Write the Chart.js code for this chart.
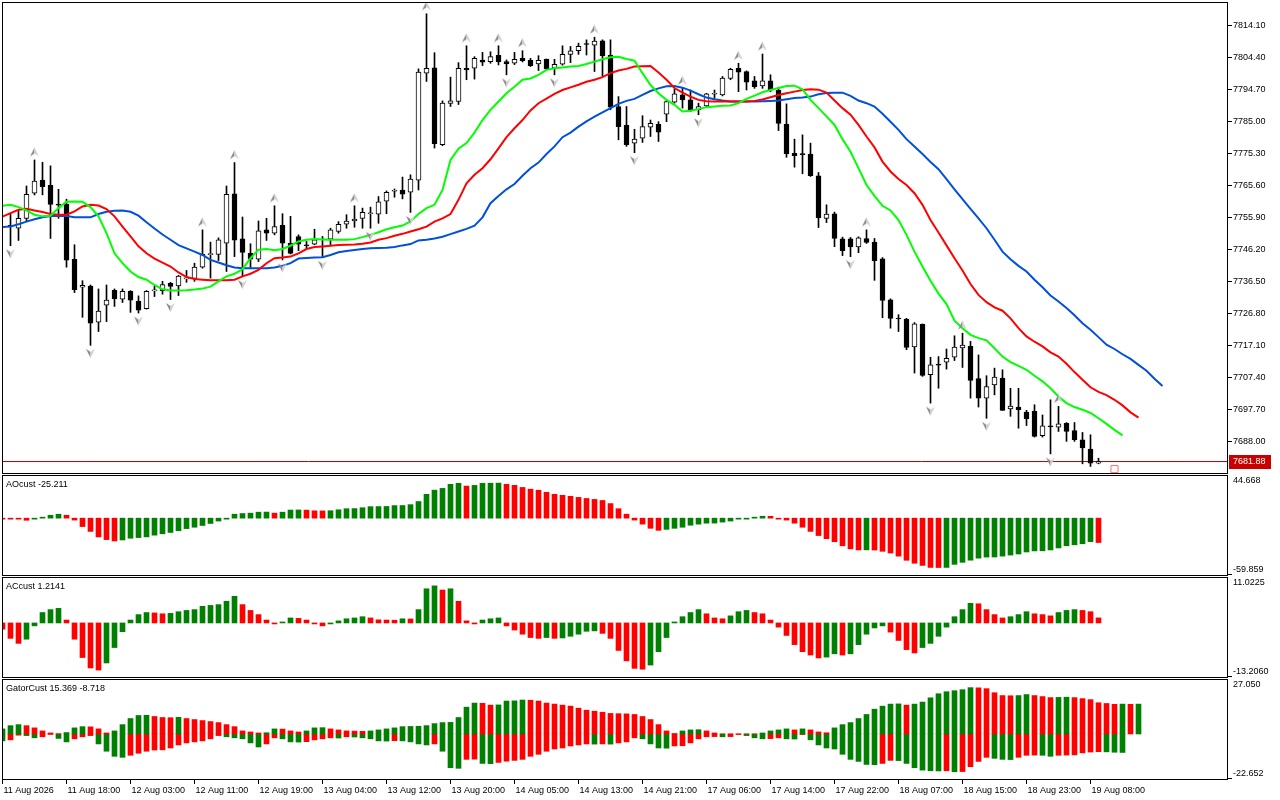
<!DOCTYPE html>
<html>
<head>
<meta charset="utf-8">
<script src="https://cdn.jsdelivr.net/npm/chart.js@4.4.1/dist/chart.umd.min.js"></script>
<style>
  html, body { margin: 0; padding: 0; background: #fff; }
  #wrap { position: relative; width: 1280px; height: 800px; overflow: hidden; background: #fff; }
  canvas { position: absolute; left: 0; }
</style>
</head>
<body>
<div id="wrap">
  <canvas id="main" width="1280" height="475" style="top:0px"></canvas>
  <canvas id="ao" width="1280" height="101" style="top:475px"></canvas>
  <canvas id="ac" width="1280" height="101" style="top:577px"></canvas>
  <canvas id="gator" width="1280" height="122" style="top:679px"></canvas>
</div>
<script>
// ---- time axis ----
const tickBars = [-1, 7, 15, 23, 31, 39, 47, 55, 63, 71, 79, 87, 95, 103, 111, 119, 127, 135];
const tickText = ['11 Aug 2026', '11 Aug 18:00', '12 Aug 03:00', '12 Aug 11:00', '12 Aug 19:00',
  '13 Aug 04:00', '13 Aug 12:00', '13 Aug 20:00', '14 Aug 05:00', '14 Aug 13:00', '14 Aug 21:00',
  '17 Aug 06:00', '17 Aug 14:00', '17 Aug 22:00', '18 Aug 07:00', '18 Aug 15:00', '18 Aug 23:00',
  '19 Aug 08:00'];
const priceTicks = [7688.00, 7697.70, 7707.40, 7717.10, 7726.80, 7736.50, 7746.20, 7755.90,
  7765.60, 7775.30, 7785.00, 7794.70, 7804.40, 7814.10];

// ---- H1 candles, bar 0 .. 136 ----
const open = [
  7753.5, 7752.6, 7755.6, 7763.2, 7767.2, 7765.6, 7759.9, 7759.9, 7743.2, 7734.7,
  7735.1, 7724.1, 7729.3, 7733.8, 7731.1, 7733.5, 7730.5, 7728.2, 7733.6, 7733.7,
  7735.9, 7735.1, 7737.2, 7737.4, 7740.8, 7744.6, 7744.7, 7748.1, 7763.0, 7749.4,
  7745.0, 7743.2, 7752.1, 7751.1, 7753.5, 7748.1, 7750.1, 7747.5, 7747.8, 7746.9,
  7749.3, 7751.6, 7753.8, 7754.8, 7755.6, 7757.0, 7756.9, 7760.8, 7763.8, 7764.2,
  7763.5, 7767.2, 7799.6, 7801.2, 7777.9, 7790.4, 7791.0, 7801.1, 7801.1, 7803.6,
  7803.1, 7805.0, 7803.1, 7802.6, 7804.1, 7803.5, 7802.4, 7803.9, 7801.1, 7802.3,
  7805.3, 7806.4, 7808.5, 7808.1, 7809.4, 7805.1, 7789.5, 7783.9, 7778.4, 7779.9,
  7783.2, 7784.1, 7787.2, 7790.8, 7793.0, 7791.5, 7788.5, 7789.7, 7793.2, 7793.0,
  7798.0, 7801.1, 7800.1, 7797.3, 7795.7, 7797.3, 7794.5, 7784.2, 7775.3, 7775.1,
  7775.1, 7768.5, 7755.6, 7757.0, 7749.4, 7749.4, 7746.9, 7749.5, 7748.4, 7743.3,
  7730.9, 7725.3, 7725.1, 7716.6, 7723.5, 7708.2, 7711.3, 7712.0, 7713.5, 7716.3,
  7716.8, 7707.0, 7701.1, 7705.1, 7707.2, 7697.8, 7698.4, 7696.9, 7697.1, 7689.7,
  7692.6, 7692.3, 7693.5, 7691.3, 7688.5, 7685.7, 7681.4
];
const high = [
  7757.1, 7758.0, 7765.4, 7773.3, 7772.6, 7771.5, 7764.4, 7761.4, 7747.6, 7736.7,
  7735.4, 7734.2, 7735.4, 7734.2, 7734.2, 7733.7, 7732.1, 7733.7, 7735.1, 7736.5,
  7736.2, 7738.3, 7739.8, 7742.0, 7752.1, 7748.4, 7749.7, 7765.4, 7772.5, 7756.0,
  7747.9, 7754.8, 7755.6, 7759.4, 7757.0, 7756.2, 7750.6, 7748.6, 7752.3, 7750.1,
  7752.6, 7754.6, 7756.7, 7759.4, 7758.7, 7759.0, 7762.2, 7763.9, 7764.5, 7768.1,
  7768.8, 7800.9, 7817.6, 7805.8, 7791.2, 7798.4, 7802.8, 7807.9, 7804.6, 7805.9,
  7806.1, 7807.9, 7803.6, 7805.9, 7806.4, 7804.1, 7804.9, 7803.9, 7803.8, 7807.9,
  7807.7, 7808.7, 7809.7, 7810.5, 7809.7, 7809.7, 7792.5, 7789.5, 7782.6, 7786.7,
  7785.4, 7784.9, 7791.5, 7794.8, 7795.0, 7794.5, 7790.5, 7793.5, 7794.5, 7798.6,
  7801.1, 7802.6, 7800.3, 7798.6, 7805.4, 7799.1, 7795.3, 7790.3, 7779.6, 7780.9,
  7778.4, 7769.5, 7759.7, 7757.5, 7749.9, 7749.8, 7750.0, 7752.1, 7749.5, 7743.7,
  7731.2, 7726.4, 7725.3, 7724.0, 7723.6, 7713.5, 7713.7, 7716.0, 7720.0, 7720.8,
  7718.3, 7714.2, 7707.9, 7710.2, 7709.7, 7704.1, 7704.1, 7697.4, 7699.1, 7696.0,
  7700.6, 7698.6, 7693.7, 7693.7, 7690.7, 7690.0, 7682.9
];
const low = [
  7747.3, 7748.9, 7754.9, 7762.7, 7762.7, 7749.5, 7755.6, 7740.8, 7733.1, 7725.6,
  7717.1, 7721.3, 7724.3, 7728.9, 7730.1, 7727.1, 7726.9, 7728.1, 7731.9, 7732.6,
  7731.0, 7732.2, 7736.2, 7736.5, 7740.5, 7737.5, 7742.8, 7739.5, 7744.0, 7738.0,
  7740.5, 7742.5, 7748.9, 7750.6, 7743.0, 7744.8, 7745.8, 7746.4, 7747.6, 7743.8,
  7747.6, 7751.1, 7752.6, 7752.9, 7752.6, 7752.6, 7754.1, 7757.0, 7762.0, 7761.5,
  7757.4, 7764.2, 7797.1, 7776.9, 7777.6, 7789.5, 7790.1, 7797.6, 7797.8, 7801.9,
  7802.6, 7802.1, 7799.1, 7802.2, 7803.0, 7801.6, 7800.4, 7800.6, 7799.1, 7802.0,
  7802.8, 7805.3, 7805.1, 7800.1, 7798.6, 7788.5, 7779.4, 7777.4, 7775.5, 7778.6,
  7780.4, 7778.9, 7784.9, 7790.5, 7789.0, 7788.0, 7787.0, 7789.5, 7792.0, 7792.7,
  7797.6, 7794.0, 7794.5, 7795.0, 7795.0, 7794.0, 7782.2, 7774.1, 7771.1, 7769.1,
  7768.3, 7752.8, 7754.3, 7747.0, 7744.3, 7744.0, 7745.2, 7748.0, 7736.8, 7725.5,
  7722.3, 7721.3, 7715.8, 7708.7, 7707.7, 7699.6, 7704.1, 7709.9, 7712.5, 7710.4,
  7701.1, 7698.4, 7695.0, 7702.1, 7697.4, 7695.6, 7692.0, 7692.8, 7689.3, 7689.3,
  7684.2, 7691.0, 7688.0, 7688.0, 7681.2, 7680.4, 7681.2
];
const close = [
  7753.1, 7755.6, 7762.9, 7766.9, 7765.2, 7759.8, 7759.6, 7742.9, 7734.0, 7735.3,
  7723.8, 7727.5, 7730.8, 7731.2, 7733.5, 7730.8, 7727.8, 7733.5, 7733.7, 7735.5,
  7735.0, 7738.1, 7737.6, 7740.8, 7744.7, 7744.8, 7749.1, 7762.9, 7749.0, 7745.3,
  7743.2, 7751.8, 7751.1, 7753.1, 7748.1, 7745.0, 7747.8, 7747.3, 7749.1, 7747.1,
  7752.1, 7753.8, 7754.8, 7755.4, 7757.4, 7757.2, 7760.6, 7763.5, 7764.0, 7762.9,
  7767.5, 7799.9, 7801.1, 7778.2, 7790.5, 7791.2, 7801.1, 7800.6, 7804.1, 7802.9,
  7804.6, 7803.1, 7802.4, 7803.8, 7803.4, 7801.9, 7803.5, 7800.9, 7802.3, 7805.3,
  7806.4, 7807.7, 7808.3, 7809.3, 7804.8, 7789.3, 7783.4, 7777.9, 7779.6, 7783.4,
  7784.4, 7781.7, 7791.0, 7793.3, 7791.5, 7788.3, 7789.5, 7793.3, 7793.4, 7798.1,
  7800.8, 7799.9, 7796.9, 7795.5, 7797.3, 7794.5, 7784.4, 7775.1, 7774.6, 7774.9,
  7768.5, 7755.8, 7756.9, 7749.5, 7745.8, 7746.9, 7749.7, 7748.3, 7742.8, 7730.7,
  7725.3, 7725.1, 7716.5, 7723.6, 7708.0, 7711.2, 7711.1, 7713.2, 7716.6, 7717.2,
  7706.5, 7701.1, 7704.6, 7707.5, 7697.4, 7698.7, 7697.6, 7694.8, 7689.5, 7692.7,
  7692.4, 7693.3, 7691.0, 7688.5, 7686.0, 7681.4, 7681.88
];
const bid = 7681.88;

// indicator series below start one bar left of the first candle (bar -1)
const firstBar = -1;

// Alligator (already shifted forward): jaw, teeth, lips
const jaw = [
  7753.0,
  7753.1, 7753.8, 7754.6, 7755.3, 7755.9, 7756.3, 7756.4, 7756.3, 7755.9, 7755.9,
  7755.9, 7756.9, 7757.6, 7757.9, 7758.0, 7757.6, 7756.4, 7754.4, 7752.5, 7750.7,
  7749.1, 7747.5, 7746.5, 7745.5, 7744.5, 7743.0, 7742.2, 7741.4, 7740.7, 7740.5,
  7740.5, 7740.5, 7740.5, 7740.7, 7741.2, 7742.0, 7743.4, 7743.6, 7743.7, 7743.8,
  7744.5, 7745.3, 7745.7, 7746.0, 7746.3, 7746.5, 7746.6, 7746.7, 7746.9, 7747.4,
  7747.8, 7748.9, 7749.1, 7749.5, 7750.0, 7750.8, 7751.6, 7752.4, 7753.4, 7755.9,
  7760.2, 7762.4, 7764.4, 7766.0, 7768.5, 7770.8, 7772.5, 7775.1, 7777.4, 7780.2,
  7781.6, 7783.4, 7785.0, 7786.4, 7787.7, 7789.0, 7790.3, 7791.2, 7791.8, 7793.0,
  7794.2, 7795.0, 7795.6, 7795.7, 7795.2, 7794.3, 7793.2, 7792.2, 7791.7, 7791.3,
  7791.0, 7791.0, 7791.0, 7791.0, 7791.1, 7791.2, 7791.3, 7791.7, 7792.1, 7792.2,
  7792.5, 7793.2, 7793.6, 7793.7, 7793.7, 7792.7, 7791.3, 7790.5, 7789.5, 7787.3,
  7784.9, 7782.4, 7779.6, 7777.4, 7775.1, 7772.7, 7770.5, 7767.5, 7764.4, 7761.4,
  7758.5, 7755.6, 7752.6, 7749.1, 7745.5, 7743.2, 7741.2, 7739.5, 7737.0, 7734.7,
  7732.2, 7730.4, 7728.4, 7726.2, 7723.8, 7721.8, 7719.6, 7717.3, 7716.0, 7714.4,
  7713.0, 7711.2, 7709.4, 7707.0, 7704.8
];
const teeth = [
  7756.1,
  7757.2, 7758.2, 7758.5, 7758.0, 7757.5, 7756.9, 7756.7, 7756.7, 7757.7, 7759.2,
  7759.7, 7759.5, 7758.4, 7756.2, 7753.1, 7750.1, 7747.1, 7745.0, 7743.4, 7742.2,
  7741.0, 7739.2, 7737.8, 7737.2, 7737.0, 7736.8, 7736.8, 7736.8, 7737.0, 7738.0,
  7738.8, 7740.0, 7742.0, 7743.5, 7743.7, 7744.0, 7745.0, 7746.3, 7746.9, 7747.1,
  7747.3, 7747.5, 7747.6, 7747.7, 7747.9, 7748.3, 7749.1, 7749.6, 7750.3, 7750.9,
  7751.6, 7752.3, 7753.1, 7754.6, 7755.6, 7756.9, 7761.2, 7766.2, 7768.8, 7770.8,
  7773.5, 7776.8, 7780.2, 7782.9, 7785.4, 7788.3, 7790.5, 7791.9, 7793.3, 7794.5,
  7795.3, 7796.1, 7797.0, 7797.6, 7798.4, 7799.6, 7800.4, 7800.9, 7801.6, 7801.7,
  7801.8, 7799.8, 7797.6, 7795.1, 7793.7, 7792.5, 7791.5, 7791.1, 7791.0, 7791.0,
  7791.0, 7791.0, 7791.0, 7791.2, 7791.6, 7792.3, 7793.0, 7793.5, 7794.0, 7794.5,
  7794.7, 7794.6, 7793.7, 7791.3, 7789.0, 7787.0, 7783.9, 7780.4, 7777.1, 7772.8,
  7769.8, 7767.5, 7765.7, 7763.2, 7759.7, 7755.1, 7751.3, 7747.4, 7743.5, 7739.8,
  7735.7, 7732.4, 7730.2, 7728.6, 7727.6, 7725.3, 7722.3, 7719.8, 7718.2, 7716.8,
  7715.0, 7713.7, 7711.5, 7709.0, 7706.7, 7704.4, 7703.0, 7702.0, 7700.6, 7698.9,
  7696.8, 7695.2
];
const lips = [
  7759.4,
  7759.7, 7759.0, 7758.0, 7756.7, 7756.2, 7756.4, 7758.7, 7760.6, 7760.7, 7760.6,
  7759.0, 7756.2, 7751.1, 7745.0, 7742.0, 7739.5, 7737.8, 7737.0, 7735.4, 7734.1,
  7733.7, 7733.7, 7733.8, 7734.0, 7734.3, 7734.9, 7736.5, 7738.0, 7738.8, 7740.2,
  7743.5, 7746.1, 7746.3, 7745.9, 7746.3, 7747.3, 7748.6, 7749.1, 7749.3, 7749.2,
  7749.1, 7749.1, 7749.1, 7749.3, 7749.9, 7750.6, 7751.4, 7752.3, 7752.9, 7753.4,
  7754.7, 7756.9, 7758.7, 7759.7, 7764.2, 7773.3, 7776.7, 7778.4, 7781.6, 7785.4,
  7788.5, 7791.0, 7793.5, 7795.5, 7797.6, 7798.0, 7799.1, 7800.6, 7801.1, 7801.3,
  7801.6, 7801.8, 7802.4, 7803.1, 7803.8, 7804.4, 7804.6, 7803.9, 7803.4, 7799.6,
  7796.0, 7793.5, 7791.5, 7790.0, 7788.0, 7788.2, 7788.7, 7789.3, 7789.5, 7789.7,
  7789.8, 7790.5, 7791.8, 7792.8, 7793.8, 7794.5, 7795.1, 7795.7, 7795.8, 7794.7,
  7791.5, 7789.0, 7786.5, 7783.9, 7779.6, 7775.8, 7770.8, 7765.7, 7762.4, 7759.4,
  7758.0, 7755.1, 7750.6, 7745.5, 7741.0, 7736.7, 7732.8, 7729.6, 7724.6, 7722.3,
  7720.3, 7719.3, 7718.6, 7716.2, 7713.7, 7712.0, 7710.9, 7709.7, 7707.9, 7706.2,
  7704.1, 7701.6, 7699.6, 7698.4, 7697.6, 7696.6, 7695.0, 7693.3, 7691.5, 7689.8
];

// Bill Williams fractals (bar numbers)
const fractalUp = [3, 24, 28, 33, 43, 52, 57, 61, 64, 73, 84, 91, 94, 107, 119, 131];
const fractalDown = [0, 10, 16, 20, 29, 34, 39, 45, 50, 62, 68, 78, 86, 105, 115, 122, 130];

// Awesome oscillator, bar -1 .. 136
const ao = [
  -0.5,
  -0.6, -0.7, -2.2, -0.4, 0.5, 3.0, 4.1, 3.0, -2.0, -8.7,
  -13.7, -19.4, -22.2, -23.6, -22.6, -20.8, -20.1, -19.4, -17.6, -16.2,
  -14.8, -13.0, -10.8, -9.4, -7.6, -5.5, -3.0, -0.9, 4.1, 4.8,
  5.2, 6.2, 6.3, 5.2, 6.2, 8.4, 8.5, 8.3, 7.6, 7.5,
  7.7, 8.7, 9.8, 9.9, 10.8, 11.9, 12.0, 12.1, 13.0, 13.1,
  14.0, 17.2, 24.7, 29.0, 30.8, 35.0, 36.1, 33.2, 33.9, 36.1,
  36.2, 36.3, 35.0, 34.0, 31.8, 30.0, 28.9, 26.8, 24.7, 23.6,
  22.6, 21.5, 20.4, 19.4, 18.3, 15.1, 9.8, 4.1, -2.0, -6.2,
  -10.5, -12.6, -11.6, -10.5, -9.4, -7.3, -6.2, -5.2, -5.1, -4.1,
  -3.0, -0.9, -0.5, 0.3, 2.0, 1.9, -0.5, -2.0, -5.2, -9.4,
  -13.7, -18.0, -21.2, -24.4, -28.6, -31.8, -32.9, -32.8, -33.0, -34.3,
  -36.1, -39.3, -43.6, -46.7, -48.9, -51.0, -51.1, -51.0, -47.8, -45.7,
  -43.5, -41.4, -40.3, -40.2, -39.3, -38.2, -37.1, -35.0, -33.9, -33.8,
  -32.9, -30.8, -28.6, -27.6, -26.5, -24.3, -25.211
];
// Accelerator oscillator, bar -1 .. 136
const ac = [
  -1.5,
  -3.7, -4.9, -3.9, -0.7, 2.5, 3.2, 3.5, 0.7, -3.9, -8.3,
  -10.8, -11.3, -9.6, -5.9, -2.1, 0.7, 2.0, 2.5, 2.4, 2.2,
  2.3, 2.7, 3.0, 3.2, 4.0, 4.2, 4.4, 5.2, 6.4, 4.4,
  3.0, 2.0, 0.7, -0.2, 0.1, 1.2, 1.1, 0.7, -0.2, -0.7,
  -0.1, 0.5, 1.0, 1.2, 1.5, 1.2, 0.75, 0.7, 0.65, 1.0,
  0.95, 3.2, 8.2, 8.9, 7.9, 8.2, 5.2, 0.5, -0.1, 0.7,
  1.0, 1.2, -0.7, -1.7, -2.7, -3.5, -3.7, -3.5, -3.7, -3.6,
  -3.2, -2.7, -2.0, -1.9, -2.5, -3.7, -6.6, -9.1, -10.9, -11.1,
  -10.1, -6.9, -3.5, 0.05, 1.5, 2.5, 3.2, 2.2, 1.2, 1.0,
  1.7, 2.7, 3.0, 2.5, 2.2, 0.7, -1.0, -3.0, -5.2, -6.9,
  -7.7, -8.4, -8.2, -7.4, -7.7, -7.4, -5.2, -2.7, -1.2, -0.7,
  -2.2, -4.2, -6.4, -7.2, -5.9, -4.9, -3.2, -1.0, 1.5, 3.2,
  4.7, 4.6, 3.2, 2.0, 1.2, 1.5, 2.0, 2.7, 2.2, 2.0,
  1.7, 2.5, 3.0, 3.2, 3.0, 2.7, 1.2141
];
// Gator oscillator, upper bar -1 .. 141, lower bar -1 .. 139
const gatorUp = [
  2.5,
  4.1, 4.6, 4.1, 3.0, 1.5, 0.5, 0.1, 0.7, 3.0, 3.6,
  3.5, 2.5, 0.5, 1.5, 4.6, 7.6, 9.1, 9.2, 8.6, 8.1,
  8.0, 8.2, 7.6, 7.1, 6.6, 6.1, 5.6, 4.6, 3.6, 1.5,
  1.0, 0.5, 0.6, 2.5, 2.4, 1.5, 1.0, 1.5, 3.0, 3.1,
  2.5, 2.0, 1.5, 1.4, 1.3, 1.5, 2.0, 2.5, 3.0, 3.6,
  3.7, 3.8, 4.1, 5.1, 5.6, 5.7, 8.1, 13.2, 15.2, 15.1,
  14.2, 14.3, 16.2, 16.3, 16.7, 16.6, 16.2, 15.2, 14.7, 14.2,
  13.7, 12.7, 11.7, 11.2, 10.7, 10.1, 10.0, 9.9, 9.6, 8.6,
  7.1, 4.6, 1.5, 0.2, 1.5, 2.0, 2.1, 1.5, 0.5, 0.0,
  0.0, 0.0, 0.0, 0.0, 0.5, 1.5, 2.0, 2.5, 2.0, 2.5,
  2.0, 1.0, 0.6, 3.0, 4.6, 5.6, 7.6, 9.6, 12.2, 13.7,
  14.7, 14.8, 14.2, 14.7, 15.7, 17.8, 19.8, 20.8, 21.3, 21.8,
  22.8, 22.7, 22.3, 20.3, 18.9, 18.8, 18.9, 19.4, 18.9, 18.4,
  17.9, 18.0, 18.1, 17.9, 17.4, 16.9, 15.369, 15.0, 14.6, 14.7,
  14.6, 14.7
];
const gatorDown = [
  -3.4,
  -2.9, -0.6, -0.8, -1.9, -1.4, -0.2, -2.2, -3.9, -2.4, -1.4,
  -0.8, -4.9, -8.5, -11.0, -11.5, -10.5, -9.5, -8.5, -7.9, -7.8,
  -6.9, -5.4, -4.4, -3.9, -3.4, -2.4, -0.8, -1.4, -1.9, -2.4,
  -4.4, -6.4, -4.9, -1.9, -2.4, -3.9, -4.0, -3.8, -2.9, -2.4,
  -1.9, -2.0, -1.4, -1.5, -1.9, -2.4, -3.4, -3.5, -3.3, -3.4,
  -3.9, -4.9, -5.4, -4.9, -8.5, -16.6, -16.9, -12.5, -12.4, -14.5,
  -14.6, -14.0, -13.4, -13.0, -12.5, -11.0, -10.0, -8.5, -7.4, -6.9,
  -5.9, -5.4, -4.9, -5.0, -4.9, -5.0, -4.4, -3.9, -1.9, -2.4,
  -4.9, -6.9, -7.0, -5.9, -5.8, -4.4, -2.4, -1.4, -1.3, -1.4,
  -1.3, -0.3, -0.8, -1.9, -2.4, -2.3, -1.9, -2.4, -2.5, -0.3,
  -2.9, -5.4, -6.9, -7.4, -10.0, -12.5, -13.5, -15.0, -15.1, -14.5,
  -13.0, -13.1, -14.5, -16.6, -17.8, -18.1, -18.2, -18.1, -18.6, -18.5,
  -16.1, -13.5, -11.5, -12.0, -12.5, -12.6, -11.5, -10.5, -10.4, -10.5,
  -11.0, -10.5, -10.4, -10.3, -9.3, -8.9, -8.718, -8.8, -9.0, -9.1
];
const askMark = { bar: 138, price: 7679.6 };

// ---- look ----
const FONT = "'Liberation Sans', Arial, sans-serif";
const FONT_PX = 9;
const UP = '#008000', DOWN = '#ff0000';
Chart.defaults.font.family = FONT;
Chart.defaults.font.size = FONT_PX;
Chart.defaults.color = '#000';
Chart.defaults.animation = false;
Chart.defaults.events = [];
Chart.defaults.plugins.legend.display = false;
Chart.defaults.plugins.tooltip.enabled = false;

// 8 px per bar, bar centres on half pixels
const X_MIN = -1.0625, X_MAX = 152.1875;
const lastBar = open.length - 1;

function xAxis(show) {
  return {
    type: 'linear', min: X_MIN, max: X_MAX, display: show, offset: false,
    afterBuildTicks: s => { s.ticks = tickBars.map(v => ({ value: v })); },
    afterFit: s => { s.height = show ? 21 : 0; },
    ticks: { autoSkip: false, maxRotation: 0, minRotation: 0, align: 'start', padding: 1, labelOffset: 1,
      callback: v => tickText[tickBars.indexOf(v)] },
    grid: { offset: false, drawOnChartArea: false, drawTicks: true, tickLength: 4, color: '#000' },
    border: { display: false }
  };
}
// right-hand value axis: labels are painted by the frame plugin, terminal style
function sideAxis(min, max) {
  return {
    position: 'right', min: min, max: max, beginAtZero: false,
    afterFit: s => { s.width = 52; },
    ticks: { display: false }, grid: { display: false }, border: { display: false }
  };
}
function colours(vals, first, grows) {
  return vals.map((v, k) => k === 0 ? first : (grows(v, vals[k - 1]) ? UP : DOWN));
}
function series(vals) {
  return vals.map((v, k) => ({ x: k + firstBar, y: v }));
}

// fractal arrow sprites, drawn offset from the bar high / low
function arrowSprite(up) {
  const c = document.createElement('canvas');
  c.width = 11; c.height = 31;
  const g = c.getContext('2d');
  const tip = up ? 3 : 28, base = up ? 12 : 19, notch = up ? 9 : 22;
  g.beginPath(); g.moveTo(5.5, tip); g.lineTo(1, base); g.lineTo(5.5, notch); g.closePath();
  g.fillStyle = '#8c8c8c'; g.fill();
  g.beginPath(); g.moveTo(5.5, tip); g.lineTo(10, base); g.lineTo(5.5, notch); g.closePath();
  g.fillStyle = '#d2d2d2'; g.fill();
  return c;
}

const frame = {
  id: 'frame',
  afterDraw(chart, args, o) {
    const { ctx, chartArea: a } = chart;
    const y = chart.scales.y;
    ctx.save();
    ctx.strokeStyle = '#000';
    ctx.lineWidth = 1;
    ctx.strokeRect(a.left + 0.5, a.top + 0.5, a.right - a.left - 1, a.bottom - a.top - 1);
    ctx.font = FONT_PX + 'px ' + FONT;
    ctx.fillStyle = '#000';
    ctx.textBaseline = 'middle';
    ctx.textAlign = 'left';
    if (o.title) ctx.fillText(o.title, a.left + 4, a.top + 10);
    if (o.priceAxis) {
      priceTicks.forEach(v => {
        const py = Math.round(y.getPixelForValue(v)) + 0.5;
        ctx.beginPath(); ctx.moveTo(a.right, py); ctx.lineTo(a.right + 4, py); ctx.stroke();
        ctx.fillText(v.toFixed(2), a.right + 5, py);
      });
    }
    if (o.digits != null) {
      ctx.fillText(y.max.toFixed(o.digits), a.right + 5, a.top + 6);
      ctx.fillText(y.min.toFixed(o.digits), a.right + 5, a.bottom - 6);
      ctx.beginPath();
      ctx.moveTo(a.right, a.bottom - 1.5); ctx.lineTo(a.right + 4, a.bottom - 1.5);
      ctx.stroke();
    }
    if (o.price != null) {
      const yp = Math.round(y.getPixelForValue(o.price));
      ctx.fillStyle = '#c80000';
      ctx.fillRect(a.right + 1, yp - 7, 42, 14);
      ctx.fillStyle = '#fff';
      ctx.fillText(o.price.toFixed(2), a.right + 5, yp);
    }
    ctx.restore();
  }
};

function barSet(vals, colors, extra) {
  return Object.assign({ type: 'bar', data: series(vals), backgroundColor: colors, borderWidth: 0,
    barThickness: 5, grouped: false, clip: 0 }, extra || {});
}

// ---- main price window ----
new Chart(document.getElementById('main'), {
  type: 'bar',
  data: {
    datasets: [
      { type: 'line', data: fractalUp.map(i => ({ x: i, y: high[i] })), showLine: false,
        pointStyle: arrowSprite(true), pointRadius: 5, order: 1 },
      { type: 'line', data: fractalDown.map(i => ({ x: i, y: low[i] })), showLine: false,
        pointStyle: arrowSprite(false), pointRadius: 5, order: 1 },
      { type: 'line', data: series(lips), borderColor: '#00ff00', borderWidth: 2, pointRadius: 0, order: 4 },
      { type: 'line', data: series(teeth), borderColor: '#ff0000', borderWidth: 2, pointRadius: 0, order: 5 },
      { type: 'line', data: series(jaw), borderColor: '#0050d8', borderWidth: 2, pointRadius: 0, order: 6 },
      { type: 'line', data: [{ x: askMark.bar, y: askMark.price }], showLine: false, pointStyle: 'rect',
        pointRadius: 5, borderColor: '#ff7070', backgroundColor: 'rgba(0,0,0,0)', borderWidth: 1, order: 2 },
      { type: 'bar', data: open.map((o, i) => ({ x: i, y: [o, close[i]] })),
        backgroundColor: open.map((o, i) => close[i] >= o ? '#ffffff' : '#000000'),
        borderColor: '#000', borderWidth: 1, borderSkipped: false, barThickness: 5, minBarLength: 1,
        grouped: false, clip: 0, order: 8 },
      { type: 'bar', data: open.map((o, i) => ({ x: i, y: [low[i], high[i]] })),
        backgroundColor: '#000', borderWidth: 0, barThickness: 1, grouped: false, clip: 0, order: 9 },
      { type: 'line', data: [{ x: X_MIN, y: bid }, { x: X_MAX, y: bid }], borderColor: '#b40000',
        borderWidth: 1, pointRadius: 0, order: 10 }
    ]
  },
  options: {
    responsive: false,
    layout: { autoPadding: false, padding: { left: 2, top: 2, bottom: 1, right: 0 } },
    scales: { x: xAxis(false), y: sideAxis(7678.11, 7821.17) },
    plugins: { frame: { priceAxis: true, price: bid } }
  },
  plugins: [frame]
});

// ---- AO window ----
new Chart(document.getElementById('ao'), {
  type: 'bar',
  data: { datasets: [barSet(ao, colours(ao, DOWN, (v, p) => v > p), { minBarLength: 1 })] },
  options: {
    responsive: false,
    layout: { autoPadding: false, padding: { left: 2, top: 0, bottom: 0, right: 0 } },
    scales: { x: xAxis(false), y: sideAxis(-59.859, 44.668) },
    plugins: { frame: { title: 'AOcust ' + ao[lastBar - firstBar].toFixed(3), digits: 3 } }
  },
  plugins: [frame]
});

// ---- AC window ----
new Chart(document.getElementById('ac'), {
  type: 'bar',
  data: { datasets: [barSet(ac, colours(ac, DOWN, (v, p) => v > p), { minBarLength: 1 })] },
  options: {
    responsive: false,
    layout: { autoPadding: false, padding: { left: 2, top: 0, bottom: 0, right: 0 } },
    scales: { x: xAxis(false), y: sideAxis(-13.2060, 11.0225) },
    plugins: { frame: { title: 'ACcust ' + ac[lastBar - firstBar].toFixed(4), digits: 4 } }
  },
  plugins: [frame]
});

// ---- Gator window ----
new Chart(document.getElementById('gator'), {
  type: 'bar',
  data: {
    datasets: [
      barSet(gatorUp, colours(gatorUp, UP, (v, p) => v > p)),
      barSet(gatorDown, colours(gatorDown, UP, (v, p) => v < p))
    ]
  },
  options: {
    responsive: false,
    layout: { autoPadding: false, padding: { left: 2, top: 0, bottom: 0, right: 0 } },
    scales: { x: xAxis(true), y: sideAxis(-22.652, 27.050) },
    plugins: { frame: { title: 'GatorCust ' + gatorUp[lastBar - firstBar].toFixed(3) + ' ' +
      gatorDown[lastBar - firstBar].toFixed(3), digits: 3 } }
  },
  plugins: [frame]
});
</script>
</body>
</html>
